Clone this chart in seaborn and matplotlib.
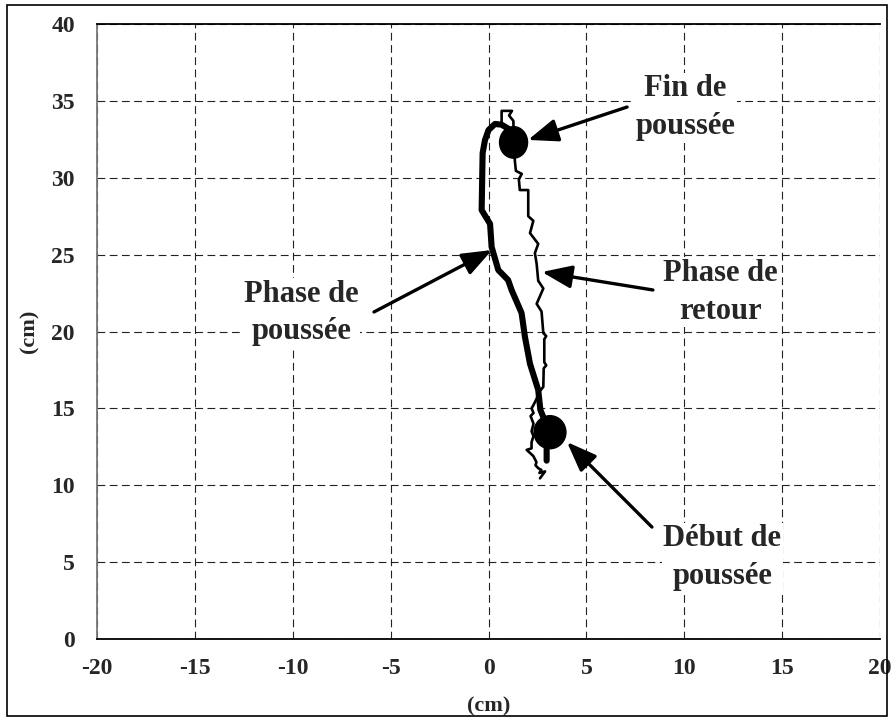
import matplotlib
matplotlib.use("Agg")
import matplotlib.pyplot as plt
from matplotlib.patches import Ellipse, Rectangle
import seaborn as sns
import pandas as pd

# Push phase (thick trace), from start of push to end of push
push_x = [2.97, 2.97, 3.10, 2.65, 2.54, 2.12, 1.86, 1.69, 1.18, 1.00, 0.50, 0.16,
          0.08, -0.35, -0.30, -0.18, 0.00, 0.33, 0.67, 1.00, 1.30]
push_y = [11.6, 12.6, 13.5, 14.9, 16.2, 17.9, 19.66, 21.2, 22.7, 23.35, 24.0, 25.5,
          27.0, 27.9, 31.6, 32.45, 33.1, 33.5, 33.45, 33.2, 32.35]

# Return phase (thin trace), from end of push back down to the start
ret_x = [0.67, 0.67, 1.20, 1.05, 1.27, 1.30, 1.35, 1.40, 1.70, 1.55, 1.60, 2.03,
         2.03, 2.29, 2.12, 2.54, 2.37, 2.46, 2.54, 2.80, 2.46, 2.71, 2.80, 2.95,
         2.85, 2.85, 2.95, 2.82, 2.80, 2.55, 2.45, 2.29, 2.20, 2.30, 2.15, 2.30,
         2.20, 2.30, 2.20, 2.20, 1.95, 2.29, 2.45, 2.40, 2.55, 2.70, 2.60, 2.89, 2.63]
ret_y = [33.45, 34.35, 34.35, 34.05, 33.7, 32.3, 31.05, 30.45, 30.25, 29.9, 29.2, 29.2,
         27.5, 27.2, 26.4, 25.7, 25.1, 24.4, 23.3, 22.8, 21.8, 21.3, 19.9, 19.7,
         19.5, 18.0, 17.8, 17.6, 16.4, 16.0, 15.6, 15.2, 15.0, 14.7, 14.5, 14.0,
         13.5, 13.2, 12.8, 12.4, 12.3, 11.9, 11.5, 11.3, 11.1, 11.0, 10.8, 10.9, 10.45]

# Key events: start and end of push
event_x = [3.14, 1.28]
event_y = [13.45, 32.3]
event_w = [1.63, 1.43]
event_h = [2.15, 2.05]

x_ticks = [-20, -15, -10, -5, 0, 5, 10, 15, 20]
y_ticks = [0, 5, 10, 15, 20, 25, 30, 35, 40]

labels = ["Fin de\npoussée", "Phase de\nretour", "Phase de\npoussée", "Début de\npoussée"]
label_pos = [(10.05, 34.55), (11.85, 22.55), (-9.55, 21.2), (11.95, 5.3)]
arrow_tail = [(7.08, 34.6), (8.40, 22.7), (-5.85, 21.27), (8.35, 7.28)]
arrow_tip = [(2.02, 32.46), (2.73, 23.87), (0.18, 25.3), (4.01, 12.81)]

sns.set_style("white")
plt.rcParams["font.family"] = ["Liberation Serif", "DejaVu Serif"]
plt.rcParams["font.weight"] = "bold"

fig = plt.figure(figsize=(8.93, 7.22), dpi=100)
ax = fig.add_axes([97 / 893, 1 - 639 / 722, 783 / 893, 615 / 722])

push = pd.DataFrame({"x": push_x, "y": push_y})
ret = pd.DataFrame({"x": ret_x, "y": ret_y})
sns.lineplot(data=ret, x="x", y="y", sort=False, estimator=None, color="black",
             linewidth=1.9, ax=ax, zorder=3)
sns.lineplot(data=push, x="x", y="y", sort=False, estimator=None, color="black",
             linewidth=4.4, ax=ax, zorder=4, solid_capstyle="round")

for cx, cy, w, h in zip(event_x, event_y, event_w, event_h):
    ax.add_patch(Ellipse((cx, cy), w, h, facecolor="black", edgecolor="black", zorder=5))

ax.set_xlim(-20, 20)
ax.set_ylim(0, 40)
ax.set_xticks(x_ticks)
ax.set_yticks(y_ticks)
ax.set_xticklabels([str(v) for v in x_ticks])
ax.set_yticklabels([str(v) for v in y_ticks])
ax.tick_params(axis="both", labelsize=17, length=5, width=1, color="#555555",
               direction="out")
ax.tick_params(axis="x", pad=9)
ax.tick_params(axis="y", pad=12, length=4)
for lab in ax.get_xticklabels() + ax.get_yticklabels():
    lab.set_fontweight("bold")

ax.grid(True, color="#222222", linewidth=0.8, linestyle=(0, (7, 4)))
ax.set_axisbelow(True)
for side in ["top", "bottom"]:
    ax.spines[side].set_color("black")
    ax.spines[side].set_linewidth(1.3)
ax.spines["left"].set_color("#777777")
ax.spines["left"].set_linewidth(1.3)
ax.spines["right"].set_visible(False)

ax.set_xlabel("(cm)", fontsize=16, fontweight="bold", labelpad=12)
ax.set_ylabel("(cm)", fontsize=16, fontweight="bold", labelpad=8)

for text, (tx, ty), tail, tip in zip(labels, label_pos, arrow_tail, arrow_tip):
    ax.text(tx, ty, text, ha="center", va="center", fontsize=22, fontweight="bold",
            linespacing=1.4, zorder=6,
            bbox=dict(facecolor="white", edgecolor="none", pad=1))
    ax.annotate("", xy=tip, xytext=tail, zorder=7,
                arrowprops=dict(arrowstyle="-|>,head_length=1.3,head_width=0.5",
                                color="black", lw=2.4, shrinkA=0, shrinkB=0,
                                mutation_scale=14))

fig.patches.append(Rectangle((7 / 893, 1 - 716 / 722), 880 / 893, 711 / 722,
                             transform=fig.transFigure, fill=False,
                             edgecolor="black", linewidth=1.2))

fig.savefig("out.png", dpi=100)
